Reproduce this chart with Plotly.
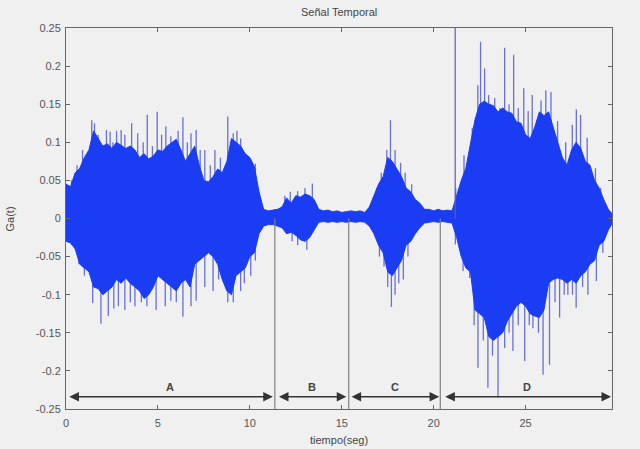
import plotly.graph_objects as go

# ---- data ----
step = 0.25
n_samples = 120
time_s = [round(i * step, 2) for i in range(n_samples)]  # sampling grid 0 .. 29.75 s

upper_env = [0.045, 0.042, 0.06, 0.066, 0.08, 0.09, 0.115, 0.105, 0.095, 0.098,
             0.092, 0.1, 0.096, 0.092, 0.095, 0.09, 0.08, 0.085, 0.078, 0.082,
             0.09, 0.088, 0.095, 0.1, 0.104, 0.09, 0.075, 0.085, 0.095, 0.07,
             0.05, 0.048, 0.055, 0.065, 0.06, 0.075, 0.105, 0.1, 0.095, 0.085,
             0.08, 0.068, 0.035, 0.012, 0.01, 0.011, 0.012, 0.015, 0.027, 0.02,
             0.03, 0.028, 0.032, 0.03, 0.025, 0.012, 0.01, 0.011, 0.009, 0.01,
             0.008, 0.009, 0.01, 0.009, 0.01, 0.008, 0.015, 0.03, 0.045, 0.055,
             0.08, 0.075, 0.065, 0.055, 0.04, 0.035, 0.025, 0.02, 0.012, 0.012,
             0.01, 0.012, 0.01, 0.011, 0.01, 0.03, 0.05, 0.066, 0.1, 0.13,
             0.15, 0.154, 0.15, 0.148, 0.14, 0.145, 0.14, 0.138, 0.127, 0.125,
             0.11, 0.105, 0.12, 0.14, 0.135, 0.14, 0.12, 0.1, 0.08, 0.07,
             0.09, 0.1, 0.092, 0.075, 0.07, 0.05, 0.04, 0.025, 0.012, 0.005]

lower_env = [-0.03, -0.032, -0.04, -0.06, -0.065, -0.07, -0.09, -0.092, -0.1, -0.095,
             -0.09, -0.08, -0.085, -0.078, -0.085, -0.09, -0.095, -0.105, -0.1, -0.09,
             -0.075, -0.08, -0.085, -0.09, -0.095, -0.085, -0.08, -0.09, -0.06, -0.055,
             -0.05, -0.045, -0.05, -0.06, -0.08, -0.095, -0.1, -0.075, -0.07, -0.065,
             -0.05, -0.045, -0.02, -0.01, -0.008, -0.008, -0.01, -0.012, -0.02, -0.018,
             -0.022, -0.028, -0.03, -0.025, -0.015, -0.005, -0.004, -0.005, -0.004, -0.005,
             -0.004, -0.005, -0.004, -0.005, -0.004, -0.005, -0.01, -0.02, -0.035, -0.045,
             -0.07, -0.075, -0.065, -0.055, -0.035, -0.03, -0.02, -0.012, -0.006, -0.005,
             -0.004, -0.005, -0.004, -0.005, -0.006, -0.025, -0.05, -0.065, -0.07, -0.12,
             -0.125, -0.13, -0.155, -0.16, -0.155, -0.15, -0.135, -0.125, -0.115, -0.11,
             -0.115, -0.125, -0.128, -0.13, -0.12, -0.085, -0.08, -0.078, -0.08, -0.085,
             -0.08, -0.085, -0.075, -0.07, -0.06, -0.055, -0.035, -0.03, -0.015, -0.005]

spike_up_t = [0.3, 0.6, 0.9, 1.4, 1.55, 1.75, 2.2, 2.4, 2.55, 2.75, 3.0, 3.2, 3.57, 3.9,
              4.2, 4.42, 4.7, 4.96, 5.2, 5.43, 5.7, 5.93, 6.1, 6.36, 6.6, 6.8, 7.08, 7.3,
              7.55, 7.85, 8.1, 8.4, 8.8, 9.1, 9.3, 9.5, 9.7, 10.05, 10.3,
              11.9, 12.2, 12.6, 13.0, 13.4,
              16.9, 17.15, 17.45, 17.65, 17.9, 18.2, 18.45, 18.8,
              21.2, 21.65, 22.1, 22.4, 22.55, 22.77, 22.99, 23.32, 23.6, 23.86, 24.1,
              24.35, 24.6, 24.9, 25.14, 25.36, 25.6, 25.84, 26.1, 26.38, 26.74, 27.18,
              27.54, 27.76, 27.99, 28.35, 28.8, 29.08]
spike_up_v = [0.05, 0.07, 0.09, 0.129, 0.125, 0.11, 0.116, 0.114, 0.1, 0.115, 0.116, 0.11,
              0.125, 0.112, 0.1, 0.136, 0.095, 0.14, 0.11, 0.121, 0.108, 0.103, 0.115,
              0.133, 0.1, 0.112, 0.116, 0.09, 0.09, 0.07, 0.09, 0.08, 0.134, 0.112, 0.115,
              0.105, 0.078, 0.07, 0.072,
              0.03, 0.035, 0.036, 0.04, 0.046,
              0.04, 0.06, 0.09, 0.129, 0.09, 0.073, 0.06, 0.045,
              0.04, 0.083, 0.119, 0.175, 0.232, 0.197, 0.162, 0.158, 0.145, 0.224, 0.15,
              0.215, 0.145, 0.171, 0.141, 0.162, 0.128, 0.155, 0.168, 0.166, 0.128, 0.1,
              0.123, 0.143, 0.136, 0.106, 0.066, 0.04]

spike_dn_t = [0.3, 0.7, 1.0, 1.45, 1.9, 2.3, 2.6, 2.85, 3.2, 3.5, 3.75, 4.1, 4.4, 4.9,
              5.4, 5.7, 6.0, 6.36, 6.8, 7.08, 7.55, 8.0, 8.3, 8.8, 9.1, 9.5, 9.7, 10.05,
              10.3,
              12.3, 12.6, 13.1,
              17.05, 17.3, 17.5, 17.7, 17.9, 18.1, 18.35, 18.6,
              21.18, 21.6, 21.96, 22.2, 22.41, 22.7, 22.95, 23.2, 23.5, 23.86, 24.1,
              24.31, 24.6, 24.95, 25.2, 25.4, 25.7, 25.95, 26.3, 26.6, 26.85, 27.1,
              27.3, 27.55, 27.75, 28.1, 28.39, 28.85, 29.2]
spike_dn_v = [-0.035, -0.06, -0.075, -0.111, -0.138, -0.128, -0.118, -0.115, -0.12, -0.11,
              -0.115, -0.11, -0.115, -0.12, -0.115, -0.108, -0.11, -0.129, -0.115, -0.108,
              -0.09, -0.095, -0.08, -0.11, -0.11, -0.095, -0.085, -0.075, -0.055,
              -0.03, -0.035, -0.041,
              -0.05, -0.063, -0.09, -0.116, -0.1, -0.085, -0.08, -0.05,
              -0.034, -0.069, -0.078, -0.14, -0.196, -0.16, -0.222, -0.18, -0.235, -0.17,
              -0.15, -0.174, -0.14, -0.187, -0.14, -0.144, -0.15, -0.205, -0.192, -0.11,
              -0.13, -0.1, -0.1, -0.1, -0.117, -0.09, -0.1, -0.082, -0.045]

segment_labels = ["A", "B", "C", "D"]
segment_bounds = [0.0, 11.36, 15.38, 20.36, 29.7]
arrow_spans = [(0.1, 11.25), (11.5, 15.25), (15.45, 20.3), (20.55, 29.65)]
marker_line_t = 21.17

x_ticks = [0, 5, 10, 15, 20, 25]
y_ticks = [0.25, 0.2, 0.15, 0.1, 0.05, 0, -0.05, -0.1, -0.15, -0.2, -0.25]
y_tick_text = ["0.25", "0.2", "0.15", "0.1", "0.05", "0", "-0.05", "-0.1", "-0.15", "-0.2", "-0.25"]

BLUE = "#1a3cf2"
SPIKE = "rgba(60,70,200,0.75)"
GRAY = "#555555"
BG = "#f0f0f0"
FONT = "Liberation Sans, Arial, sans-serif"

fig = go.Figure()

# spikes (vertical strokes from zero to peak)
sx, sy = [], []
for t, v in list(zip(spike_up_t, spike_up_v)) + list(zip(spike_dn_t, spike_dn_v)):
    sx += [t, t, None]
    sy += [0, v, None]
fig.add_trace(go.Scatter(x=sx, y=sy, mode="lines",
                         line=dict(color=SPIKE, width=1.3), hoverinfo="skip",
                         showlegend=False))

# signal body: closed polygon between envelopes
fig.add_trace(go.Scatter(x=time_s + time_s[::-1], y=upper_env + lower_env[::-1],
                         mode="lines", fill="toself", fillcolor=BLUE,
                         line=dict(color=BLUE, width=1), hoverinfo="skip",
                         showlegend=False))

# separator lines between segments
lx, ly = [], []
for b in segment_bounds[1:-1]:
    lx += [b, b, None]
    ly += [0, -0.25, None]
fig.add_trace(go.Scatter(x=lx, y=ly, mode="lines",
                         line=dict(color="#808080", width=1.2), hoverinfo="skip",
                         showlegend=False))
# tall marker line
fig.add_trace(go.Scatter(x=[marker_line_t, marker_line_t], y=[0, 0.25], mode="lines",
                         line=dict(color="#6060a8", width=1.2), hoverinfo="skip",
                         showlegend=False))

# double-headed arrows + labels
arrow_y = -0.234
for (a0, a1), lab in zip(arrow_spans, segment_labels):
    fig.add_annotation(x=a1, y=arrow_y, ax=a0, ay=arrow_y, xref="x", yref="y",
                       axref="x", ayref="y", text="", showarrow=True,
                       arrowhead=2, startarrowhead=2, arrowside="end+start",
                       arrowsize=1.2, startarrowsize=1.2, arrowwidth=1.6,
                       arrowcolor="#333333", standoff=0, startstandoff=0)
    fig.add_annotation(x=(a0 + a1) / 2, y=-0.221, text="<b>" + lab + "</b>",
                       showarrow=False, font=dict(size=11, color="#444444", family=FONT))

# title and axis titles as paper annotations
fig.add_annotation(text="Señal Temporal", xref="paper", yref="paper", x=0.5, y=1.042,
                   xanchor="center", yanchor="middle", showarrow=False,
                   font=dict(size=11, color="#444444", family=FONT))
fig.add_annotation(text="tiempo(seg)", xref="paper", yref="paper", x=0.5, y=-0.0814,
                   xanchor="center", yanchor="middle", showarrow=False,
                   font=dict(size=11, color="#444444", family=FONT))
fig.add_annotation(text="Ga(t)", xref="paper", yref="paper", x=-0.1026, y=0.5,
                   xanchor="center", yanchor="middle", textangle=-90, showarrow=False,
                   font=dict(size=11, color="#444444", family=FONT))

fig.update_layout(
    width=640, height=449,
    margin=dict(l=66, r=28, t=28, b=40),
    paper_bgcolor=BG, plot_bgcolor=BG,
    font=dict(family=FONT, size=11, color=GRAY),
    showlegend=False,
)
fig.update_xaxes(range=[0, 29.7], tickvals=x_ticks, ticks="inside", ticklen=4,
                 showgrid=False, zeroline=False, showline=True, mirror="ticks",
                 linecolor="#666666", linewidth=1, tickcolor="#666666", automargin=False,
                 ticklabelstandoff=4)
fig.update_yaxes(range=[-0.25, 0.25], tickvals=y_ticks, ticktext=y_tick_text,
                 ticks="inside", ticklen=4, showgrid=False, zeroline=False,
                 showline=True, mirror="ticks", linecolor="#666666", linewidth=1,
                 tickcolor="#666666", automargin=False, ticklabelstandoff=2)

fig.write_html("out.html", config={"displayModeBar": False},
               post_script="document.body.style.margin='0';")
